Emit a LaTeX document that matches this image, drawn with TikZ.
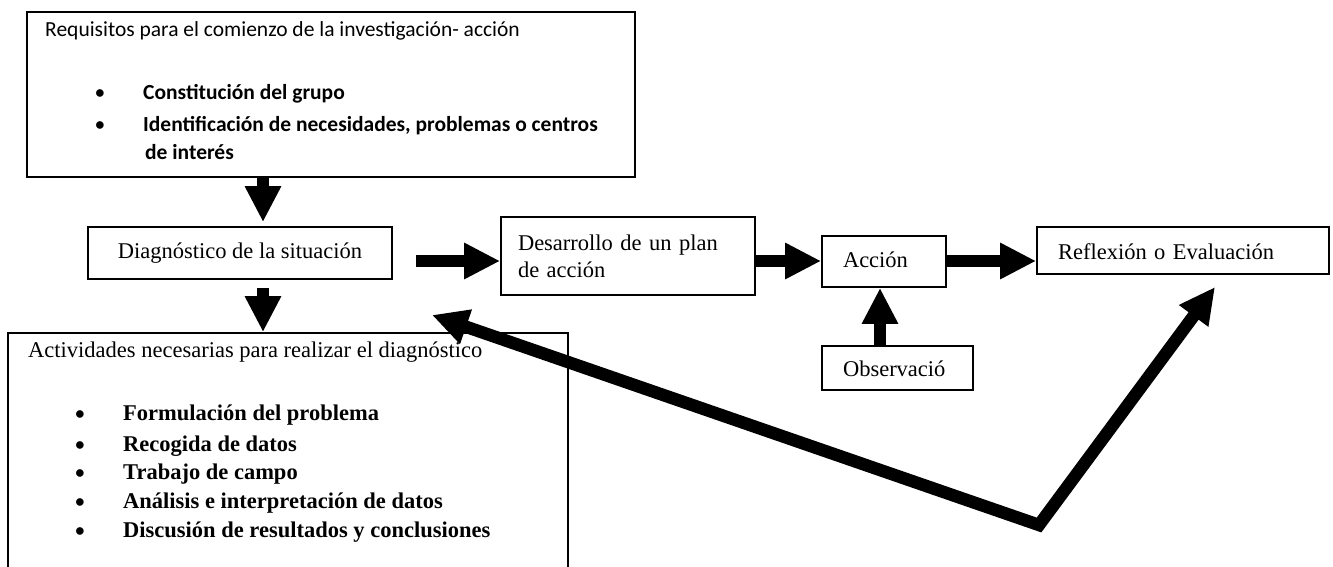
\documentclass[tikz,border=0pt]{standalone}
\usepackage{fontspec}
\setmainfont{Liberation Serif}
\newfontfamily\calibri{Carlito}
\usetikzlibrary{arrows.meta}

\tikzset{
    bigtip/.tip={Triangle[length=36bp, width=34bp]},
    flow/.style={line width=12.5bp, -bigtip},
    caja/.style={draw, line width=1.8bp, inner xsep=0pt, inner ysep=0pt, align=left},
    serif/.style={font=\fontsize{22.5bp}{27bp}\selectfont, inner sep=0pt},
    sans/.style={font=\calibri\fontsize{21.5bp}{26bp}\selectfont, inner sep=0pt}
}

\begin{document}
\begin{tikzpicture}[x=1bp, y=-1bp]
    \path[use as bounding box, fill=white] (0,0) rectangle (1333,567);

    % Requisitos
    \node[caja, minimum width=608bp, minimum height=165bp] (req) at (331,94.5) {};
    \node[sans, anchor=base west] (reqT) at (45,37) {Requisitos para el comienzo de la investigación- acción};
    \node[sans, anchor=base] (reqB1) at (100,100) {•};
    \node[sans, anchor=base west] (reqI1) at (143,100) {\bfseries Constitución del grupo};
    \node[sans, anchor=base] (reqB2) at (100,132) {•};
    \node[sans, anchor=base west] (reqI2) at (143,132) {\bfseries Identificación de necesidades, problemas o centros};
    \node[sans, anchor=base west] (reqI3) at (145,160) {\bfseries de interés};

    % Boxes of the cycle
    \node[caja, serif, align=center, text height=15.75bp, text depth=5.75bp,
        minimum width=304bp, minimum height=52bp] (diag) at (240,253) {Diagnóstico de la situación};
    \node[caja, serif, text width=220bp, minimum width=254bp, minimum height=78bp] (plan) at (628,256) {Desarrollo de un plan\\de acción};
    \node[caja, serif, text height=15.75bp, text depth=4.75bp, text width=82bp,
        minimum width=124bp, minimum height=51bp] (accion) at (884,261.5) {Acción};
    \node[caja, serif, text height=17bp, text depth=0pt, text width=109bp,
        minimum width=151bp, minimum height=44bp] (obs) at (897.5,368) {Observació};
    \node[caja, serif, text height=17bp, text depth=0pt, text width=250bp,
        minimum width=292bp, minimum height=47bp] (refl) at (1183,250.5) {Reflexión o Evaluación};

    % Actividades
    \node[caja, minimum width=560bp, minimum height=244bp] (act) at (288,455) {};
    \node[serif, anchor=base west] (actT) at (28,357) {Actividades necesarias para realizar el diagnóstico};
    \node[sans, anchor=base] (actB1) at (80,420) {•};
    \node[serif, anchor=base west] (actI1) at (123,420) {\bfseries Formulación del problema};
    \node[sans, anchor=base] (actB2) at (80,451) {•};
    \node[serif, anchor=base west] (actI2) at (123,451) {\bfseries Recogida de datos};
    \node[sans, anchor=base] (actB3) at (80,479) {•};
    \node[serif, anchor=base west] (actI3) at (123,479) {\bfseries Trabajo de campo};
    \node[sans, anchor=base] (actB4) at (80,508) {•};
    \node[serif, anchor=base west] (actI4) at (123,508) {\bfseries Análisis e interpretación de datos};
    \node[sans, anchor=base] (actB5) at (80,537) {•};
    \node[serif, anchor=base west] (actI5) at (123,537) {\bfseries Discusión de resultados y conclusiones};

    % Arrows
    \coordinate (dn) at (263,0);
    \coordinate (row) at (0,261);
    \coordinate (up) at (880,0);
    \draw[flow, shorten >=4bp] (req.south -| dn) -- (diag.north -| dn);
    \draw[flow, shorten <=8bp] (diag.south -| dn) -- (act.north -| dn);
    \draw[flow, shorten <=23bp] (diag.east |- row) -- (plan.west |- row);
    \draw[flow] (plan.east |- row) -- (accion.west |- row);
    \draw[flow] (accion.east |- row) -- (refl.west |- row);
    \draw[flow] (obs.north -| up) -- (accion.south -| up);

    % Feedback
    \coordinate (fbL) at (432,315);
    \coordinate (fbV) at (1039,525);
    \coordinate (fbR) at (1215,287);
    \draw[flow, bigtip-bigtip] (fbL) -- (fbV) -- (fbR);
\end{tikzpicture}
\end{document}
